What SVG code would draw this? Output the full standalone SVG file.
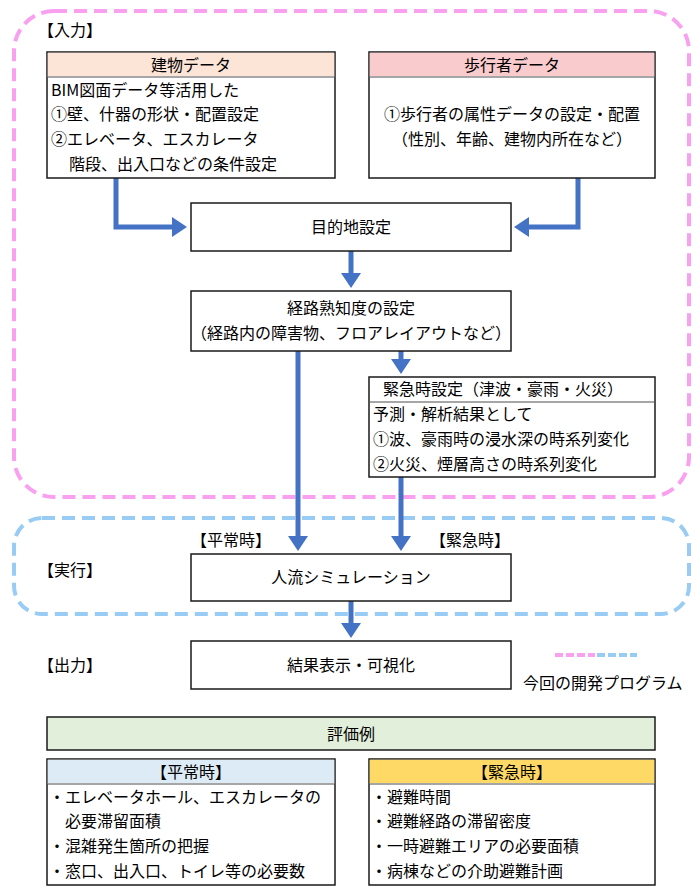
<svg xmlns="http://www.w3.org/2000/svg" width="700" height="894" viewBox="0 0 700 894">
<style>
text{font-family:"Noto Sans CJK JP","Noto Sans CJK SC",sans-serif;font-size:16px;fill:#000;}
.c{text-anchor:middle;}
.box{fill:#fff;stroke:#1a1a1a;stroke-width:1.5;}
.sep{stroke:#a6a6a6;stroke-width:2;}
.conn{fill:none;stroke:#4472c4;stroke-width:5;}
</style>
<defs>
<marker id="ah" markerWidth="4" markerHeight="4" refX="1.2" refY="2" orient="auto" markerUnits="strokeWidth" viewBox="0 0 3 4">
<path d="M0,0 L3,2 L0,4 Z" fill="#4472c4"/>
</marker>
</defs>
<rect x="14" y="11" width="675" height="486" rx="40" fill="none" stroke="#f9a0f0" stroke-width="4" stroke-dasharray="13 7"/>
<rect x="14" y="518" width="675" height="96" rx="28" fill="none" stroke="#99ccf5" stroke-width="4" stroke-dasharray="13 7"/>
<text x="38" y="36">【入力】</text>
<text x="38" y="576">【実行】</text>
<text x="38" y="671">【出力】</text>
<text x="191" y="546">【平常時】</text>
<text x="430" y="546">【緊急時】</text>

<g id="legend">
<line x1="555" y1="655" x2="595" y2="655" stroke="#f9a0f0" stroke-width="4" stroke-dasharray="8 3"/>
<line x1="597" y1="655" x2="637" y2="655" stroke="#99ccf5" stroke-width="4" stroke-dasharray="8 3"/>
<text x="523" y="689">今回の開発プログラム</text>
</g>

<g id="conn">
<path class="conn" d="M116,178 V227 H178" marker-end="url(#ah)"/>
<path class="conn" d="M578,178 V227 H523" marker-end="url(#ah)"/>
<path class="conn" d="M351,251 V279" marker-end="url(#ah)"/>
<path class="conn" d="M401,351 V365" marker-end="url(#ah)"/>
<path class="conn" d="M298,351 V542" marker-end="url(#ah)"/>
<path class="conn" d="M401,477 V542" marker-end="url(#ah)"/>
<path class="conn" d="M351,601 V629" marker-end="url(#ah)"/>
</g>

<g id="building">
<rect class="box" x="47" y="52" width="288" height="126"/>
<rect x="47.75" y="52.75" width="286.5" height="24" fill="#fce4d6"/>
<line class="sep" x1="48" y1="77" x2="334" y2="77"/>
<text class="c" x="191" y="71">建物データ</text>
<text x="51" y="96">BIM図面データ等活用した</text>
<text x="51" y="120">①壁、什器の形状・配置設定</text>
<text x="51" y="145">②エレベータ、エスカレータ</text>
<text x="69" y="170">階段、出入口などの条件設定</text>
</g>

<g id="pedestrian">
<rect class="box" x="369" y="52" width="286" height="126"/>
<rect x="369.75" y="52.75" width="284.5" height="24" fill="#f9cbcc"/>
<line class="sep" x1="370" y1="77" x2="654" y2="77"/>
<text class="c" x="512" y="71">歩行者データ</text>
<text class="c" x="512" y="120">①歩行者の属性データの設定・配置</text>
<text class="c" x="512" y="145">（性別、年齢、建物内所在など）</text>
</g>

<g id="destination">
<rect class="box" x="191" y="203" width="320" height="48"/>
<text class="c" x="351" y="233">目的地設定</text>
</g>

<g id="route">
<rect class="box" x="191" y="291" width="320" height="60"/>
<text class="c" x="351" y="314">経路熟知度の設定</text>
<text class="c" x="351" y="339">（経路内の障害物、フロアレイアウトなど）</text>
</g>

<g id="emergency">
<rect class="box" x="369" y="377" width="286" height="100"/>
<line class="sep" x1="370" y1="402" x2="654" y2="402"/>
<text x="383" y="395">緊急時設定（津波・豪雨・火災）</text>
<text x="373" y="420">予測・解析結果として</text>
<text x="373" y="445">①波、豪雨時の浸水深の時系列変化</text>
<text x="373" y="470">②火災、煙層高さの時系列変化</text>
</g>

<g id="simulation">
<rect class="box" x="191" y="554" width="320" height="47"/>
<text class="c" x="351" y="583">人流シミュレーション</text>
</g>

<g id="result">
<rect class="box" x="191" y="641" width="320" height="48"/>
<text class="c" x="351" y="671">結果表示・可視化</text>
</g>

<g id="evaluation">
<rect class="box" x="47" y="717" width="608" height="33" style="fill:#e2efda"/>
<text class="c" x="351" y="740">評価例</text>
</g>

<g id="normal">
<rect class="box" x="47" y="759" width="288" height="126"/>
<rect x="47.75" y="759.75" width="286.5" height="24" fill="#ddebf7"/>
<line class="sep" x1="48" y1="784" x2="334" y2="784"/>
<text class="c" x="191" y="778">【平常時】</text>
<text x="49" y="803">・エレベータホール、エスカレータの</text>
<text x="49" y="827">　必要滞留面積</text>
<text x="49" y="852">・混雑発生箇所の把握</text>
<text x="49" y="877">・窓口、出入口、トイレ等の必要数</text>
</g>

<g id="emergency-eval">
<rect class="box" x="369" y="759" width="286" height="126"/>
<rect x="369.75" y="759.75" width="284.5" height="24" fill="#ffd966"/>
<line class="sep" x1="370" y1="784" x2="654" y2="784"/>
<text class="c" x="512" y="778">【緊急時】</text>
<text x="371" y="803">・避難時間</text>
<text x="371" y="827">・避難経路の滞留密度</text>
<text x="371" y="852">・一時避難エリアの必要面積</text>
<text x="371" y="877">・病棟などの介助避難計画</text>
</g>
</svg>
